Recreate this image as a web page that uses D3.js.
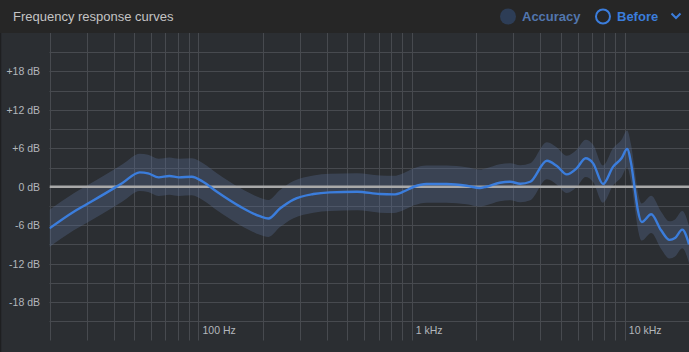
<!DOCTYPE html>
<html>
<head>
<meta charset="utf-8">
<script src="https://cdn.jsdelivr.net/npm/d3@7"></script>
<style>
    html, body { margin: 0; padding: 0; background: #2b2e32; }
    svg { display: block; font-family: "Liberation Sans", Arial, sans-serif; }
</style>
</head>
<body>
<div id="wrapper"></div>
<script>
const freqs = [20, 26, 30, 40, 44, 53, 58, 65, 73, 81, 93, 105, 122, 157, 194, 213, 241, 279,
    346, 413, 555, 710, 823, 914, 1024, 1174, 1460, 1810, 2090, 2240, 2590, 2900, 3230, 3600,
    4310, 4800, 5340, 5940, 6550, 7100, 7900, 8800, 9650, 10250, 10700, 11150, 11500, 12000,
    13300, 14800, 16200, 17200, 18600, 20000];
const beforeDb = [-6.5, -3.9, -2.7, -0.25, 0.6, 2.25, 2.1, 1.47, 1.67, 1.47, 1.56, 0.78, -0.78, -3.1, -4.6, -4.95, -3.4, -2.0,
    -1.14, -0.88, -0.78, -1.14, -1.19, -0.78, 0, 0.42, 0.42, 0.16, -0.2, 0, 0.62, 0.78, 0.47, 0.78,
    4.06, 3.23, 1.93, 2.87, 4.44, 3.65, 0.42, 3.1, 4.44, 5.9, 3.65, -0.5, -3.6, -5.5,
    -4.3, -6.8, -8.3, -8.0, -6.7, -9.0];
const accuracyDb = 2.9; // half width of the shaded band

const gridFreqs = [20, 30, 40, 50, 60, 70, 80, 90, 100, 200, 300, 400, 500, 600, 700, 800, 900,
    1000, 2000, 3000, 4000, 5000, 6000, 7000, 8000, 9000, 10000, 20000];
const gridDb = [-21, -18, -15, -12, -9, -6, -3, 0, 3, 6, 9, 12, 15, 18, 21];
const yTicks = [18, 12, 6, 0, -6, -12, -18];
const xTicks = [100, 1000, 10000];
const xTickLabels = ["100 Hz", "1 kHz", "10 kHz"];
const legendItems = ["Accuracy", "Before"];

const dimensions = {
    width: 689,
    height: 352,
    header: 33,
    plotLeft: 49.5,
    plotBottom: 340.5,
}

const data = freqs.map((f, i) => ({ f: f, db: beforeDb[i] }));

const wrapper = d3.select("#wrapper")
    .append("svg")
    .attr("width", dimensions.width)
    .attr("height", dimensions.height);

const xScale = d3.scaleLog()
    .domain([20, 20000])
    .range([dimensions.plotLeft, dimensions.width]);

const yScale = d3.scaleLinear()
    .domain([-24, 24])
    .range([dimensions.plotBottom, dimensions.header]);

// backgrounds
wrapper.append("rect")
    .attr("width", dimensions.width)
    .attr("height", dimensions.height)
    .attr("fill", "#2b2e32");

wrapper.append("rect")
    .attr("width", dimensions.width)
    .attr("height", dimensions.header)
    .attr("fill", "#262626");

wrapper.append("line")
    .attr("x1", 0.5).attr("x2", 0.5)
    .attr("y1", dimensions.header).attr("y2", dimensions.height)
    .attr("stroke", "#1e1f21")
    .attr("stroke-width", 1.5);

// grid
const grid = wrapper.append("g");

grid.selectAll(".h-grid")
    .data(gridDb)
    .enter()
    .append("line")
    .attr("class", "h-grid")
    .attr("x1", dimensions.plotLeft)
    .attr("x2", dimensions.width)
    .attr("y1", d => Math.round(yScale(d)) + 0.5)
    .attr("y2", d => Math.round(yScale(d)) + 0.5)
    .attr("stroke", "#474a4f");

grid.selectAll(".v-grid")
    .data(gridFreqs)
    .enter()
    .append("line")
    .attr("class", "v-grid")
    .attr("x1", d => Math.round(xScale(d)) + 0.5)
    .attr("x2", d => Math.round(xScale(d)) + 0.5)
    .attr("y1", dimensions.header)
    .attr("y2", dimensions.plotBottom)
    .attr("stroke", "#474a4f");

// clip to the plot
wrapper.append("clipPath")
    .attr("id", "plot-clip")
    .append("rect")
    .attr("x", dimensions.plotLeft)
    .attr("y", dimensions.header)
    .attr("width", dimensions.width - dimensions.plotLeft)
    .attr("height", dimensions.plotBottom - dimensions.header);

const bounds = wrapper.append("g")
    .attr("clip-path", "url(#plot-clip)");

const band = d3.area()
    .x(d => xScale(d.f))
    .y0(d => yScale(d.db - accuracyDb))
    .y1(d => yScale(d.db + accuracyDb))
    .curve(d3.curveMonotoneX);

bounds.append("path")
    .datum(data)
    .attr("d", band)
    .attr("fill", "rgb(92, 112, 152)")
    .attr("fill-opacity", 0.33);

bounds.append("line")
    .attr("x1", dimensions.plotLeft)
    .attr("x2", dimensions.width)
    .attr("y1", yScale(0))
    .attr("y2", yScale(0))
    .attr("stroke", "#a9a9a9")
    .attr("stroke-width", 2.5);

const line = d3.line()
    .x(d => xScale(d.f))
    .y(d => yScale(d.db))
    .curve(d3.curveMonotoneX);

bounds.append("path")
    .datum(data)
    .attr("d", line)
    .attr("fill", "none")
    .attr("stroke", "#3b7ddc")
    .attr("stroke-width", 2.4)
    .attr("stroke-linejoin", "round");

// axes
const yAxis = wrapper.append("g")
    .attr("transform", `translate(40, 0)`)
    .call(d3.axisLeft(yScale)
        .tickValues(yTicks)
        .tickSize(0)
        .tickPadding(0)
        .tickFormat(d => (d > 0 ? "+" : "") + d + " dB"));

const xAxis = wrapper.append("g")
    .attr("transform", `translate(0, 326)`)
    .call(d3.axisBottom(xScale)
        .tickValues(xTicks)
        .tickSize(0)
        .tickPadding(0)
        .tickFormat((d, i) => xTickLabels[i]));

wrapper.selectAll(".domain").remove();

yAxis.selectAll(".tick text")
    .attr("fill", "#b3b7bc")
    .attr("font-size", "10.5px")
    .attr("font-family", "Liberation Sans, Arial, sans-serif");

xAxis.selectAll(".tick text")
    .attr("fill", "#b3b7bc")
    .attr("font-size", "10.5px")
    .attr("font-family", "Liberation Sans, Arial, sans-serif")
    .attr("text-anchor", "start")
    .attr("dx", 3.5)
    .attr("dy", "0.75em");

// header
wrapper.append("text")
    .attr("x", 13)
    .attr("y", 21)
    .attr("fill", "#c4c4c4")
    .attr("font-size", "13px")
    .text("Frequency response curves");

const legend = wrapper.append("g");

legend.append("circle")
    .attr("cx", 508)
    .attr("cy", 16.5)
    .attr("r", 8)
    .attr("fill", "#2d3d56");

legend.append("text")
    .attr("x", 522)
    .attr("y", 21)
    .attr("fill", "#5276ae")
    .attr("font-size", "13px")
    .attr("font-weight", "bold")
    .text(legendItems[0]);

legend.append("circle")
    .attr("cx", 603)
    .attr("cy", 16.5)
    .attr("r", 7)
    .attr("fill", "none")
    .attr("stroke", "#3b7ddc")
    .attr("stroke-width", 2);

legend.append("text")
    .attr("x", 617)
    .attr("y", 21)
    .attr("fill", "#3b7ddc")
    .attr("font-size", "13px")
    .attr("font-weight", "bold")
    .text(legendItems[1]);

legend.append("path")
    .attr("d", "M671.5,13.5 L676,18 L680.5,13.5")
    .attr("fill", "none")
    .attr("stroke", "#3b7ddc")
    .attr("stroke-width", 2);
</script>
</body>
</html>
